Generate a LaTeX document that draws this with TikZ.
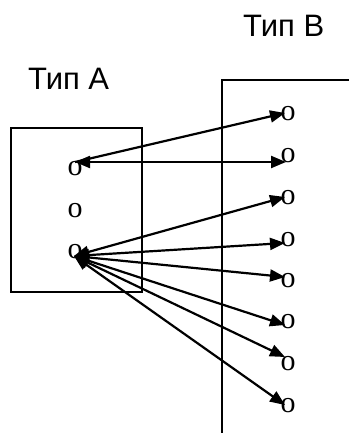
\documentclass[tikz,border=0pt]{standalone}
\usepackage{fontspec}
\setmainfont{Liberation Serif}
\newfontfamily\labelfont{Liberation Sans}
\usetikzlibrary{arrows.meta,calc}
\tikzset{
  frame/.style={draw=black,line width=1.2pt},
  pt/.style={inner sep=0pt,font=\fontsize{30}{30}\selectfont},
  lab/.style={inner sep=0pt,anchor=base west,font=\labelfont\fontsize{31}{33}\selectfont},
  arr/.style={line width=2.2pt,-{Triangle[length=15pt,width=12pt]}},
  darr/.style={line width=2.2pt,{Triangle[length=15pt,width=12pt]}-{Triangle[length=15pt,width=12pt]}}
}
\begin{document}
\begin{tikzpicture}[x=1pt,y=-1pt]
\useasboundingbox (0,0) rectangle (349,435);
% labels
\node[lab] (labA) at (28,90) {Тип A};
\node[lab] (labB) at (243,37) {Тип B};
% boxes
\draw[frame] (11,128) rectangle (142,292);
\draw[frame] (349,80) -- (222,80) -- (222,433);
% points in A
\node[pt] (a1) at (75,169) {o};
\node[pt] (a2) at (75,211) {o};
\node[pt] (a3) at (75,252) {o};
% points in B
\node[pt] (b1) at (288,114) {o};
\node[pt] (b2) at (288,156) {o};
\node[pt] (b3) at (288,198) {o};
\node[pt] (b4) at (288,240) {o};
\node[pt] (b5) at (288,281) {o};
\node[pt] (b6) at (288,322) {o};
\node[pt] (b7) at (288,364) {o};
\node[pt] (b8) at (288,406) {o};
% arrow tips
\coordinate (ta1) at ($(a1)+(0,-7)$);
\coordinate (ta3) at ($(a3)+(-1,4)$);
\coordinate (tb1) at ($(b1)+(-3,-1)$);
\coordinate (tb2) at ($(b2)+(-2,6)$);
\coordinate (tb3) at ($(b3)+(-3,-1)$);
\coordinate (tb4) at ($(b4)+(-3,3)$);
\coordinate (tb5) at ($(b5)+(-3,-4)$);
\coordinate (tb6) at ($(b6)+(-3,3)$);
\coordinate (tb7) at ($(b7)+(-3,-7)$);
\coordinate (tb8) at ($(b8)+(-3,-1)$);
% connectors
\draw[arr] (ta1) -- (tb1);
\draw[darr] (ta1) -- (tb2);
\draw[darr] (ta3) -- (tb3);
\draw[darr] (ta3) -- (tb4);
\draw[darr] (ta3) -- (tb5);
\draw[darr] (ta3) -- (tb6);
\draw[darr] (ta3) -- (tb7);
\draw[darr] (ta3) -- (tb8);
\end{tikzpicture}
\end{document}
